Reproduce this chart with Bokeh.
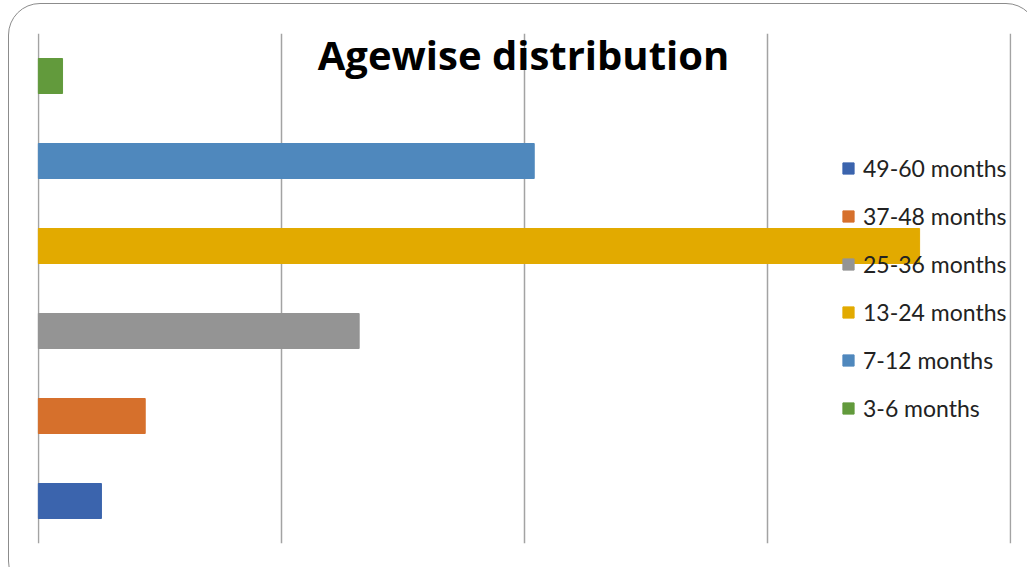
from bokeh.plotting import figure
from bokeh.models import (FactorRange, Range1d, Legend, LegendItem, Label,
                          FixedTicker, ColumnDataSource, InlineStyleSheet)
from bokeh.embed import file_html
from bokeh.resources import INLINE

# data (bottom to top)
categories = ["49-60 months", "37-48 months", "25-36 months",
              "13-24 months", "7-12 months", "3-6 months"]
values = [2.6, 4.4, 13.2, 36.25, 20.4, 1.0]
colors = ["#3B64AD", "#D6702C", "#949494", "#E2AA00", "#4F88BD", "#629A3C"]
x_ticks = [0, 10, 20, 30, 40]
title_text = "Agewise distribution"

W, H = 1027, 567
p = figure(width=W, height=H, output_backend="svg", toolbar_location=None,
           y_range=FactorRange(factors=categories, range_padding=0),
           x_range=Range1d(-0.03, 40.03),
           min_border_left=37, min_border_right=16,
           min_border_top=33, min_border_bottom=24)
p.xaxis.visible = False
p.yaxis.visible = False
p.outline_line_color = None
p.ygrid.grid_line_color = None
p.xgrid.ticker = FixedTicker(ticks=x_ticks)
p.xgrid.grid_line_color = "#a3a3a3"
p.xgrid.grid_line_width = 1.5
p.background_fill_color = "white"
p.border_fill_color = "white"

src = ColumnDataSource(dict(cat=categories, val=values, color=colors))
r = p.hbar(y="cat", right="val", left=0, height=35/85, color="color", source=src)

items = [LegendItem(label=c, renderers=[r], index=i) for i, c in enumerate(categories)]
legend = Legend(items=items, location=(804, 121),
                glyph_width=14, glyph_height=14, label_text_font_size="23px",
                label_text_font="Lato", label_text_color="#222222",
                label_standoff=8, spacing=20, padding=0, margin=0,
                border_line_color=None, background_fill_alpha=0)
p.add_layout(legend, "center")

title = Label(x=486, y=489, x_units="screen", y_units="screen", text=title_text,
              text_align="center", text_baseline="middle",
              text_font="Open Sans", text_font_style="bold", text_font_size="40px",
              text_color="#000000")
p.add_layout(title)

p.stylesheets = [InlineStyleSheet(css="""
:host { overflow: hidden; }
:host::after {
  content: ''; position: absolute; left: 8px; top: 3px;
  width: 1030px; height: 590px; border: 1.2px solid #8c8c8c;
  border-radius: 32px; pointer-events: none; box-sizing: border-box;
}
""")]

open("out.html", "w").write(file_html(p, INLINE))
